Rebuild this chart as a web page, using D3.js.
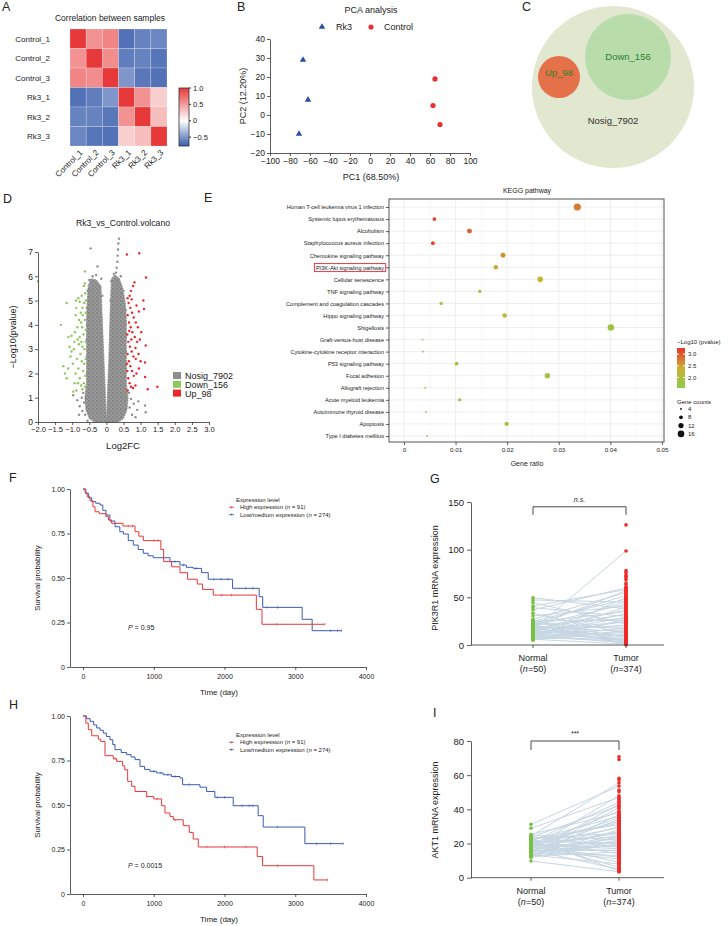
<!DOCTYPE html>
<html>
<head>
<meta charset="utf-8">
<script src="https://cdn.jsdelivr.net/npm/d3@7"></script>
<style>
  body { margin: 0; background: #fff; }
  svg text { font-family: "Liberation Sans", Arial, Helvetica, sans-serif; }
</style>
</head>
<body>
<div id="fig"></div>
<script>
// ── Datos ────────────────────────────────────────────────────────────────
// A: correlación entre muestras
const samples = ["Control_1", "Control_2", "Control_3", "Rk3_1", "Rk3_2", "Rk3_3"];
const corrValues = [
  [ 1.00,  0.55,  0.62, -0.68, -0.60, -0.58],
  [ 0.55,  1.00,  0.58, -0.62, -0.60, -0.66],
  [ 0.62,  0.58,  1.00, -0.50, -0.65, -0.68],
  [-0.68, -0.62, -0.50,  1.00,  0.55,  0.25],
  [-0.60, -0.60, -0.65,  0.55,  1.00,  0.33],
  [-0.58, -0.66, -0.68,  0.25,  0.33,  1.00]
];
const corrTicks = [1.0, 0.5, 0, -0.5];

// B: PCA
const pcaRk3 = [[-67, 29], [-62, 8], [-71, -10]];
const pcaControl = [[65, 19], [63, 5], [70, -5]];

// C: DEG
const degNames = ["Nosig", "Down", "Up"];
const degCounts = [7902, 156, 98];

// D: volcano
const volcanoNosigShape = [
  [0.0, 0.05], [0.02, 0.6], [0.04, 1.5], [0.07, 2.5], [0.09, 3.5], [0.11, 4.5], [0.13, 5.3], [0.15, 5.9],
  [0.25, 6.05], [0.38, 5.9], [0.48, 5.5], [0.55, 4.9], [0.58, 4.2], [0.58, 3.0], [0.58, 1.6], [0.63, 1.0],
  [0.6, 0.5], [0.5, 0.15], [0.35, 0.0], [-0.35, 0.0], [-0.5, 0.15], [-0.6, 0.5], [-0.63, 1.0], [-0.58, 1.6],
  [-0.58, 3.0], [-0.58, 4.2], [-0.56, 5.0], [-0.53, 5.6], [-0.45, 5.9], [-0.3, 5.85], [-0.16, 5.6],
  [-0.13, 4.5], [-0.1, 3.5], [-0.07, 2.5], [-0.04, 1.5], [-0.02, 0.6]
];
const volcanoNosig = [
  [-0.46, 7.15], [-0.26, 6.4], [-0.3, 6.05], [-0.4, 6.0], [-0.5, 5.85], [0.37, 7.55], [0.35, 7.35], [0.34, 7.1],
  [0.33, 6.85], [0.32, 6.6], [0.3, 6.35], [0.28, 6.15], [0.22, 6.1], [0.42, 6.0],
  [0.93, 0.85], [0.9, 0.5], [1.13, 0.68], [1.15, 0.4], [0.8, 0.75], [0.72, 0.95], [0.68, 0.6], [0.75, 0.3],
  [0.85, 0.2], [0.66, 1.2], [-0.97, 1.1], [-0.85, 0.9], [-0.78, 0.65], [-0.7, 0.45], [-0.72, 1.0],
  [-0.65, 0.8], [-0.62, 0.3], [-0.68, 1.2], [-0.8, 0.3], [-0.55, 0.05],
  [-0.57, 2.0], [-0.57, 2.7], [-0.58, 3.4], [-0.57, 4.0], [-0.57, 4.7], [-0.55, 5.4], [0.57, 2.2], [0.57, 2.9],
  [0.57, 3.5], [0.57, 4.0], [0.56, 4.6], [0.5, 5.4], [-0.15, 5.9], [-0.12, 5.2], [0.14, 5.8], [0.12, 5.0]
];
const volcanoDown = [
  [-2.0, 5.8], [-0.63, 6.2], [-1.33, 4.0], [-1.16, 4.9], [-1.11, 3.5], [-1.02, 3.55], [-0.89, 5.0], [-0.82, 5.1],
  [-0.78, 4.95], [-0.72, 5.2], [-0.66, 5.6], [-0.62, 5.3], [-1.26, 2.3], [-1.21, 2.0], [-1.16, 1.8], [-0.97, 1.25],
  [-0.88, 1.3], [-1.02, 2.9], [-0.95, 3.0], [-0.92, 3.7], [-0.85, 3.9], [-0.8, 4.2], [-0.75, 4.5], [-0.7, 4.7],
  [-0.65, 4.9], [-0.9, 4.4], [-0.86, 2.6], [-0.82, 2.2], [-0.78, 1.8], [-0.74, 1.5], [-0.7, 1.35], [-0.66, 1.6],
  [-0.62, 1.9], [-0.68, 2.1], [-0.72, 2.5], [-0.76, 2.8], [-0.8, 3.2], [-0.84, 3.4], [-0.64, 3.0], [-0.61, 3.3],
  [-0.67, 3.6], [-0.71, 3.9], [-0.74, 4.1], [-0.63, 4.2], [-0.6, 4.5], [-0.69, 4.4], [-0.61, 2.6], [-0.65, 2.4],
  [-0.7, 3.1], [-0.78, 3.5], [-0.9, 2.0], [-0.98, 2.4], [-1.05, 2.7], [-0.94, 3.3], [-1.08, 3.1], [-0.88, 4.7],
  [-0.6, 5.0], [-0.63, 5.7], [-0.73, 3.3], [-0.6, 3.8], [-0.62, 1.45], [-0.83, 1.6], [-1.12, 2.2], [-0.93, 1.6]
];
const volcanoUp = [
  [0.6, 6.9], [0.96, 6.95], [1.16, 5.95], [0.82, 5.75], [0.78, 5.6], [0.72, 5.4], [0.68, 5.2], [1.08, 5.0],
  [1.1, 4.65], [1.15, 3.15], [1.13, 2.45], [1.13, 1.85], [1.49, 1.45], [1.21, 1.35], [0.62, 1.3], [0.65, 4.9],
  [0.7, 4.7], [0.75, 4.5], [0.8, 4.3], [0.86, 4.1], [0.92, 3.9], [0.62, 4.4], [0.66, 4.1], [0.71, 3.9],
  [0.76, 3.7], [0.83, 3.5], [0.9, 3.3], [0.98, 3.4], [0.61, 3.6], [0.64, 3.3], [0.69, 3.1], [0.74, 2.9],
  [0.79, 2.7], [0.86, 2.6], [0.94, 2.8], [0.62, 2.8], [0.66, 2.5], [0.7, 2.3], [0.75, 2.1], [0.8, 1.9],
  [0.88, 2.0], [0.95, 2.2], [0.61, 2.1], [0.64, 1.8], [0.68, 1.6], [0.72, 1.45], [0.78, 1.4], [0.85, 1.5],
  [0.62, 5.1], [0.74, 5.05], [0.88, 4.8], [0.95, 4.55], [1.02, 3.7], [0.85, 3.05], [1.0, 2.5], [0.73, 3.4],
  [0.67, 3.75], [0.6, 2.4]
];

// E: KEGG
const keggPathways = [
  "Human T-cell leukemia virus 1 infection", "Systemic lupus erythematosus", "Alcoholism",
  "Staphylococcus aureus infection", "Chemokine signaling pathway", "PI3K-Akt signaling pathway",
  "Cellular senescence", "TNF signaling pathway", "Complement and coagulation cascades",
  "Hippo signaling pathway", "Shigellosis", "Graft-versus-host disease",
  "Cytokine-cytokine receptor interaction", "P53 signaling pathway", "Focal adhesion",
  "Allograft rejection", "Acute myeloid leukemia", "Autoimmune thyroid disease", "Apoptosis",
  "Type I diabetes mellitus"
];
const keggRatio = [0.0336, 0.0059, 0.0127, 0.0056, 0.0192, 0.0178, 0.0264, 0.0147, 0.0072, 0.0195,
                   0.0401, 0.0036, 0.0037, 0.0102, 0.0278, 0.0041, 0.0108, 0.0043, 0.0199, 0.0045];
const keggLogP = [2.75, 3.15, 2.95, 3.2, 2.6, 2.4, 2.35, 2.05, 2.0, 2.1,
                  1.8, 1.9, 1.85, 1.9, 1.8, 1.75, 1.8, 1.75, 1.85, 1.7];
const keggCount = [18, 8, 11, 8, 11, 10, 13, 7, 7, 10, 16, 4, 4, 8, 12, 4, 7, 4, 9, 4];
const keggCountBreaks = [4, 8, 12, 16];
const keggPBreaks = [3.0, 2.5, 2.0];
const keggRatioTicks = [0, 0.01, 0.02, 0.03, 0.04, 0.05];

// F / H: supervivencia  [tiempo, probabilidad]
const survTicksX = [0, 1000, 2000, 3000, 4000];
const survTicksY = [0, 0.25, 0.5, 0.75, 1];
const fHigh = [[0, 1], [30, 0.978], [60, 0.956], [99, 0.934], [140, 0.9], [170, 0.872], [230, 0.861],
  [325, 0.845], [360, 0.826], [405, 0.807], [565, 0.792], [735, 0.76], [790, 0.735], [852, 0.71],
  [1100, 0.66], [1140, 0.592], [1252, 0.563], [1370, 0.53], [1478, 0.493], [1615, 0.466], [1690, 0.436],
  [1841, 0.404], [2450, 0.324], [2530, 0.24], [3418, 0.24]];
const fLow = [[0, 1], [40, 0.975], [80, 0.95], [123, 0.929], [180, 0.92], [240, 0.91], [280, 0.88],
  [325, 0.854], [380, 0.82], [452, 0.788], [520, 0.76], [570, 0.747], [640, 0.71], [711, 0.685],
  [780, 0.66], [852, 0.639], [920, 0.625], [993, 0.614], [1229, 0.592], [1370, 0.573], [1460, 0.56],
  [1558, 0.554], [1676, 0.53], [1770, 0.493], [2114, 0.442], [2490, 0.395], [2540, 0.335],
  [3098, 0.268], [3239, 0.204], [3654, 0.204]];
const fHighCensor = [640, 700, 1000, 1060, 1960, 2100, 2740, 3418];
const fLowCensor = [1300, 1420, 1600, 1850, 1950, 2050, 2300, 2400, 2600, 2750, 3500, 3600, 3654];
const hHigh = [[0, 1], [40, 0.96], [75, 0.923], [123, 0.889], [216, 0.87], [250, 0.857], [311, 0.777],
  [428, 0.76], [476, 0.745], [560, 0.72], [590, 0.698], [631, 0.633], [688, 0.605], [735, 0.576],
  [900, 0.548], [1000, 0.534], [1111, 0.496], [1158, 0.455], [1229, 0.436], [1276, 0.417], [1417, 0.384],
  [1502, 0.346], [1558, 0.309], [1629, 0.264], [2462, 0.211], [2538, 0.159], [3263, 0.079], [3456, 0.079]];
const hLow = [[0, 1], [50, 0.985], [99, 0.97], [150, 0.95], [193, 0.933], [240, 0.92], [287, 0.904],
  [330, 0.885], [381, 0.867], [420, 0.84], [452, 0.811], [540, 0.795], [617, 0.783], [680, 0.77],
  [735, 0.755], [805, 0.717], [870, 0.7], [946, 0.689], [1040, 0.68], [1134, 0.67], [1250, 0.66],
  [1370, 0.652], [1408, 0.614], [1653, 0.6], [1747, 0.576], [1864, 0.543], [2123, 0.496], [2476, 0.44],
  [2547, 0.376], [3136, 0.283], [3677, 0.283]];
const hHighCensor = [450, 900, 1050, 1300, 1750, 2000, 2300, 2750, 3456];
const hLowCensor = [1000, 1100, 1200, 1300, 1500, 1900, 2000, 2250, 2350, 2400, 2750, 3300, 3500, 3677];

// G: PIK3R1 (pares Normal/Tumor + tumores sin par)
const groups = ["Normal", "Tumor"];
const pikNormal = [49.6, 47.2, 44.4, 40.9, 39.2, 36.7, 33.2, 30.4,
  27, 26, 25.5, 25, 24, 23.5, 23, 22, 21.5, 21, 20.5, 20,
  19.5, 19, 18.5, 18, 17.5, 17, 16.5, 16, 15.5, 15,
  14.5, 14, 13.5, 13, 12.5, 12, 11.5, 11, 10.5, 10,
  9.5, 9, 8.5, 8, 7.5, 7, 6.5, 6, 5.5, 5];
const pikTumorPaired = [38, 45, 22, 58, 30, 60, 12, 41,
  55, 3, 26, 48, 8, 35, 17, 52, 1, 28, 6, 43,
  14, 57, 2, 19, 32, 9, 24, 98.6, 4, 37,
  11, 21, 46, 5, 16, 29, 2, 33, 7, 13,
  25, 3, 40, 10, 18, 6, 50, 1, 15, 27];
const pikTumorOther = [126, 78, 76, 73.7, 72, 70.3, 68.5, 65, 63.3, 60.9, 59.6, 58.3, 56.8, 55.6, 54.1,
  53.2, 51.4, 50.3, 48.8, 47.5, 46.6, 44.9, 43.7, 42.1, 40.8, 39.6, 38.2, 36.9, 35.4, 34.3, 32.8, 31.6,
  30.1, 28.9, 27.5, 26.2, 24.8, 23.3, 22.4, 20.9, 19.7, 18.2, 16.8, 15.5, 14.1, 12.7, 11.6, 10.2, 8.8,
  7.3, 6.1, 4.6, 3.4, 2.2, 0.9, 0.2];
const pikTicks = [0, 50, 100, 150];

// I: AKT1
const aktNormal = [31.2, 28.9, 25.3, 24.8, 24.4, 24, 23.6, 23.1, 22.7, 22.2,
  21.9, 21.5, 21.1, 20.6, 20.3, 19.9, 19.5, 19.1, 18.7, 18.4,
  18, 17.6, 17.3, 16.9, 16.5, 16.2, 15.8, 15.4, 15.1, 14.7,
  14.4, 14, 13.7, 13.3, 13, 12.6, 12.3, 11.9, 22.4, 20.8,
  19.3, 17.8, 16.4, 14.9, 13.5, 21.3, 18.1, 15.6, 12.8, 9.8];
const aktTumorPaired = [53.6, 47, 38, 22, 55.5, 18, 42, 26, 31, 14,
  36, 20, 44, 24, 9, 29, 33, 17, 39, 21,
  12, 27, 48, 16, 23, 5, 30, 19, 34, 25,
  13, 41, 22, 8, 28, 15, 37, 20, 4, 32,
  18, 26, 11, 43, 24, 6, 35, 16, 21, 3.5];
const aktTumorOther = [70.8, 69.2, 58.1, 57.2, 51.3, 50.3, 46.2, 45.4, 44.6, 41.8, 40.3, 38.6, 37.9,
  37.1, 36.4, 35.6, 34.8, 34.1, 33.3, 32.7, 31.9, 31.2, 30.4, 29.6, 28.9, 28.1, 27.4, 26.6, 25.9,
  25.1, 24.4, 23.6, 22.8, 22.1, 21.3, 20.6, 19.8, 19.1, 18.3, 17.5, 16.8, 16.1, 15.3, 14.5, 13.8,
  13.1, 12.3, 11.6, 10.8, 10.1, 9.3, 8.6, 7.8, 7.1, 6.3, 5.6, 4.8, 4.2, 3.5];
const aktTicks = [0, 20, 40, 60, 80];

// ── Lienzo ────────────────────────────────────────────────────────────────
const INK = "#333";
const svg = d3.select("#fig").append("svg")
  .attr("width", 728).attr("height", 926)
  .style("display", "block");
const defs = svg.append("defs");

function styleAxis(sel, fs) {
  sel.attr("font-family", null).attr("font-size", null);
  sel.select(".domain").attr("stroke", INK).attr("stroke-width", 0.8);
  sel.selectAll(".tick line").attr("stroke", INK).attr("stroke-width", 0.8);
  sel.selectAll(".tick text").attr("fill", "#222").style("font-size", fs + "px");
  return sel;
}

function addText(g, x, y, s, size, anchor = "start", extra = {}) {
  const t = g.append("text").attr("x", x).attr("y", y)
    .attr("text-anchor", anchor).style("font-size", size + "px")
    .attr("fill", extra.fill || "#222").text(s);
  if (extra.rotate) t.attr("transform", `rotate(${extra.rotate},${x},${y})`);
  if (extra.italic) t.style("font-style", "italic");
  return t;
}

// letras de panel
const letterPos = {A: [2, 11], B: [237, 11], C: [522, 11], D: [3, 203], E: [204, 202],
                   F: [9, 482], G: [430, 483], H: [9, 709], I: [433, 717]};
Object.entries(letterPos).forEach(([k, [x, y]]) => addText(svg, x, y, k, 12.5));

// ── A: heatmap ─────────────────────────────────────────────────────────────
{
  const g = svg.append("g");
  const x = d3.scaleBand().domain(samples).range([70, 167]);
  const y = d3.scaleBand().domain(samples).range([29, 146]);
  const color = d3.scaleLinear().domain([-0.77, 0, 1]).range(["#3b5ead", "#ffffff", "#e8393a"]);
  const cells = corrValues.flatMap((row, i) => row.map((v, j) => ({r: samples[i], c: samples[j], v})));

  g.selectAll("rect.cell").data(cells).join("rect").attr("class", "cell")
    .attr("x", d => x(d.c)).attr("y", d => y(d.r))
    .attr("width", x.bandwidth()).attr("height", y.bandwidth())
    .attr("fill", d => color(d.v))
    .attr("stroke", "#fff").attr("stroke-opacity", 0.35).attr("stroke-width", 0.6);

  addText(g, 110, 21, "Correlation between samples", 8.5, "middle");

  g.selectAll("text.row").data(samples).join("text").attr("class", "row")
    .attr("x", 50).attr("y", d => y(d) + y.bandwidth() / 2).attr("dy", "0.35em")
    .attr("text-anchor", "end").style("font-size", "8px").attr("fill", "#222").text(d => d);

  g.selectAll("text.col").data(samples).join("text").attr("class", "col")
    .attr("transform", d => `translate(${x(d) + x.bandwidth() / 2 + 3},151) rotate(-45)`)
    .attr("text-anchor", "end").attr("dy", "0.35em")
    .style("font-size", "8px").attr("fill", "#222").text(d => d);

  // barra de color
  const cb = d3.scaleLinear().domain([-0.77, 1]).range([146, 88]);
  const grad = defs.append("linearGradient").attr("id", "gradA")
    .attr("x1", 0).attr("y1", 1).attr("x2", 0).attr("y2", 0);
  [-0.77, -0.4, 0, 0.5, 1].forEach(v => grad.append("stop")
    .attr("offset", (v + 0.77) / 1.77).attr("stop-color", color(v)));
  g.append("rect").attr("x", 179).attr("y", 88).attr("width", 10).attr("height", 58)
    .attr("fill", "url(#gradA)").attr("stroke", INK).attr("stroke-width", 0.8);
  corrTicks.forEach(v => {
    g.append("line").attr("x1", 189).attr("x2", 191).attr("y1", cb(v)).attr("y2", cb(v)).attr("stroke", INK);
    addText(g, 193, cb(v), v === 0 ? "0" : d3.format(".1f")(v).replace("-", "−"), 7.5).attr("dy", "0.35em");
  });
}

// ── B: PCA ─────────────────────────────────────────────────────────────────
{
  const g = svg.append("g");
  const x = d3.scaleLinear().domain([-100, 100]).range([270, 470]);
  const y = d3.scaleLinear().domain([-20, 40]).range([153, 39]);
  g.append("g").attr("transform", "translate(0,153)")
    .call(d3.axisBottom(x).tickValues(d3.range(-100, 101, 20)).tickSize(3).tickPadding(2).tickSizeOuter(0))
    .call(s => styleAxis(s, 8.5));
  g.append("g").attr("transform", "translate(270,0)")
    .call(d3.axisLeft(y).tickValues(d3.range(-20, 41, 10)).tickSize(3).tickPadding(2).tickSizeOuter(0))
    .call(s => styleAxis(s, 8.5));

  const tri = d3.symbol().type(d3.symbolTriangle).size(18);
  g.selectAll("path.rk3").data(pcaRk3).join("path").attr("class", "rk3")
    .attr("d", tri).attr("transform", d => `translate(${x(d[0])},${y(d[1])})`).attr("fill", "#2b4fa0");
  g.selectAll("circle.ctl").data(pcaControl).join("circle").attr("class", "ctl")
    .attr("cx", d => x(d[0])).attr("cy", d => y(d[1])).attr("r", 2.6).attr("fill", "#e8312d");

  addText(g, 371, 13, "PCA analysis", 9, "middle");
  g.append("path").attr("d", tri).attr("transform", "translate(322,27)").attr("fill", "#2b4fa0");
  addText(g, 336, 27, "Rk3", 9).attr("dy", "0.35em");
  g.append("circle").attr("cx", 371).attr("cy", 27).attr("r", 2.6).attr("fill", "#e8312d");
  addText(g, 384, 27, "Control", 9).attr("dy", "0.35em");
  addText(g, 371, 180, "PC1 (68.50%)", 9, "middle");
  addText(g, 246, 96, "PC2 (12.20%)", 9, "middle", {rotate: -90});
}

// ── C: burbujas DEG ────────────────────────────────────────────────────────
{
  const g = svg.append("g");
  const bubbleLayout = {
    Nosig: {cx: 613, cy: 87, r: 81, fill: "#e2e7d0", ink: "#333", ly: 121},
    Down:  {cx: 628, cy: 57, r: 43, fill: "#b9dcab", ink: "#2e7d32", ly: 57},
    Up:    {cx: 559, cy: 77, r: 21, fill: "#e4714a", ink: "#3a7d2a", ly: 73}
  };
  const deg = degNames.map((n, i) => ({name: n, count: degCounts[i], ...bubbleLayout[n]}));
  g.selectAll("circle").data(deg).join("circle")
    .attr("cx", d => d.cx).attr("cy", d => d.cy).attr("r", d => d.r).attr("fill", d => d.fill);
  g.selectAll("text").data(deg).join("text")
    .attr("x", d => d.cx).attr("y", d => d.ly).attr("dy", "0.35em").attr("text-anchor", "middle")
    .style("font-size", "9.5px").attr("fill", d => d.ink).text(d => `${d.name}_${d.count}`);
}

// ── D: volcano ─────────────────────────────────────────────────────────────
{
  const g = svg.append("g");
  const x = d3.scaleLinear().domain([-2, 3]).range([38, 209]);
  const y = d3.scaleLinear().domain([0, 7]).range([422, 252]);
  const grey = "#8e8e8e", green = "#8dc85a", red = "#e8282a";

  // textura granulada para la nube de puntos no significativos
  const pat = defs.append("pattern").attr("id", "speckle").attr("patternUnits", "userSpaceOnUse")
    .attr("width", 4).attr("height", 4);
  pat.append("rect").attr("width", 4).attr("height", 4).attr("fill", "#999");
  pat.append("circle").attr("cx", 1).attr("cy", 1).attr("r", 0.9).attr("fill", "#7c7c7c");
  pat.append("circle").attr("cx", 3).attr("cy", 3).attr("r", 0.9).attr("fill", "#858585");

  g.append("path").datum(volcanoNosigShape)
    .attr("d", d3.line().x(d => x(d[0])).y(d => y(d[1])).curve(d3.curveLinearClosed))
    .attr("fill", "url(#speckle)").attr("stroke", grey).attr("stroke-width", 1.2)
    .attr("stroke-dasharray", "1.5 1");
  const dots = (data, c) => g.append("g").selectAll("circle").data(data).join("circle")
    .attr("cx", d => x(d[0])).attr("cy", d => y(d[1])).attr("r", 1.2).attr("fill", c);
  dots(volcanoNosig, grey);
  dots(volcanoDown, green);
  dots(volcanoUp, red);

  g.append("g").attr("transform", "translate(0,422)")
    .call(d3.axisBottom(x).tickValues(d3.range(-2, 3.01, 0.5)).tickSize(3).tickPadding(2).tickSizeOuter(0)
      .tickFormat(d => Math.abs(d) < 1e-9 ? "0" : d3.format(".1f")(d)))
    .call(s => styleAxis(s, 7.6));
  g.append("g").attr("transform", "translate(38,0)")
    .call(d3.axisLeft(y).ticks(7).tickSize(3).tickPadding(2).tickSizeOuter(0))
    .call(s => styleAxis(s, 8.5));

  addText(g, 123, 226, "Rk3_vs_Control.volcano", 8.7, "middle");
  addText(g, 123, 449, "Log2FC", 9.5, "middle");
  addText(g, 16, 337, "−Log10(pvalue)", 9, "middle", {rotate: -90});

  [["Nosig_7902", grey], ["Down_156", green], ["Up_98", red]].forEach(([lab, c], i) => {
    g.append("rect").attr("x", 173).attr("y", 372 + i * 8.8).attr("width", 8).attr("height", 7).attr("fill", c);
    addText(g, 185, 376 + i * 8.8, lab, 9).attr("dy", "0.35em");
  });
}

// ── E: KEGG ────────────────────────────────────────────────────────────────
{
  const g = svg.append("g");
  const x = d3.scaleLinear().domain([-0.0029, 0.0504]).range([389, 664]);
  const y = d3.scalePoint().domain(keggPathways).range([207, 436]);
  const color = d3.scaleLinear().domain([1.55, 2.35, 3.26]).range(["#8ccb4c", "#c8b332", "#e8362e"]);
  const size = d3.scaleLinear().domain([2, 4]).range([0.9, 3.3]);
  const rows = keggPathways.map((p, i) => ({p, ratio: keggRatio[i], lp: keggLogP[i], n: keggCount[i]}));

  // rejilla
  d3.range(0.005, 0.05, 0.01).forEach(v => g.append("line").attr("x1", x(v)).attr("x2", x(v))
    .attr("y1", 199).attr("y2", 442).attr("stroke", "#f3f3f3").attr("stroke-width", 0.5));
  keggRatioTicks.forEach(v => g.append("line").attr("x1", x(v)).attr("x2", x(v))
    .attr("y1", 199).attr("y2", 442).attr("stroke", "#e6e6e6").attr("stroke-width", 0.7));
  keggPathways.forEach(p => g.append("line").attr("x1", 389).attr("x2", 664)
    .attr("y1", y(p)).attr("y2", y(p)).attr("stroke", "#e6e6e6").attr("stroke-width", 0.7));

  g.selectAll("circle").data(rows).join("circle")
    .attr("cx", d => x(d.ratio)).attr("cy", d => y(d.p))
    .attr("r", d => size(Math.sqrt(d.n))).attr("fill", d => color(d.lp));

  g.append("rect").attr("x", 389).attr("y", 199).attr("width", 275).attr("height", 243)
    .attr("fill", "none").attr("stroke", "#444").attr("stroke-width", 0.9);

  g.append("g").attr("transform", "translate(389,0)")
    .call(d3.axisLeft(y).tickSize(3).tickPadding(2).tickSizeOuter(0))
    .call(s => styleAxis(s, 5.6)).call(s => s.select(".domain").remove());
  g.append("g").attr("transform", "translate(0,442)")
    .call(d3.axisBottom(x).tickValues(keggRatioTicks).tickSize(3).tickPadding(3).tickSizeOuter(0)
      .tickFormat(d3.format("~g")))
    .call(s => styleAxis(s, 6.2)).call(s => s.select(".domain").remove());

  // recuadro rojo PI3K-Akt
  const lab = g.selectAll(".tick text").filter(d => d === "PI3K-Akt signaling pathway").node();
  const bb = lab.getBBox();
  const m = lab.parentNode.getCTM();
  g.append("rect").attr("x", bb.x + m.e - 1.5).attr("y", bb.y + m.f - 1)
    .attr("width", bb.width + 3).attr("height", bb.height + 2)
    .attr("fill", "none").attr("stroke", "#ec3b47").attr("stroke-width", 1);

  addText(g, 527, 193, "KEGG pathway", 7, "middle");
  addText(g, 527, 466, "Gene ratio", 7, "middle");

  // leyendas
  addText(g, 677, 344, "−Log10 (pvalue)", 6);
  const cb = d3.scaleLinear().domain([1.55, 3.26]).range([388, 348]);
  const grad = defs.append("linearGradient").attr("id", "gradE")
    .attr("x1", 0).attr("y1", 1).attr("x2", 0).attr("y2", 0);
  [1.55, 2.35, 3.26].forEach(v => grad.append("stop")
    .attr("offset", (v - 1.55) / 1.71).attr("stop-color", color(v)));
  g.append("rect").attr("x", 677).attr("y", 348).attr("width", 8).attr("height", 40).attr("fill", "url(#gradE)");
  keggPBreaks.forEach(v => {
    g.append("line").attr("x1", 677).attr("x2", 679).attr("y1", cb(v)).attr("y2", cb(v)).attr("stroke", "#fff");
    g.append("line").attr("x1", 683).attr("x2", 685).attr("y1", cb(v)).attr("y2", cb(v)).attr("stroke", "#fff");
    addText(g, 688, cb(v), d3.format(".1f")(v), 6).attr("dy", "0.35em");
  });
  addText(g, 677, 404, "Gene counts", 6);
  keggCountBreaks.forEach((n, i) => {
    const yy = 409 + i * 8.3;
    g.append("circle").attr("cx", 681).attr("cy", yy).attr("r", size(Math.sqrt(n))).attr("fill", "#111");
    addText(g, 688, yy, n, 6).attr("dy", "0.35em");
  });
}

// ── F / H: Kaplan-Meier ────────────────────────────────────────────────────
function drawKM(cfg) {
  const g = svg.append("g");
  const x = d3.scaleLinear().domain([-184, 4000]).range([70, 366]);
  const y = d3.scaleLinear().domain([0, 1]).range([cfg.y0, cfg.y0 - 178]);
  const line = d3.line().x(d => x(d[0])).y(d => y(d[1])).curve(d3.curveStepAfter);
  const sAt = (data, t) => { let s = 1; for (const [ti, si] of data) if (ti <= t) s = si; return s; };

  [[cfg.low, cfg.lowCensor, "#3a5bb5"], [cfg.high, cfg.highCensor, "#e8363a"]].forEach(([data, cens, c]) => {
    g.append("path").datum(data).attr("d", line).attr("fill", "none").attr("stroke", c).attr("stroke-width", 1);
    g.append("g").selectAll("line").data(cens).join("line")
      .attr("x1", t => x(t)).attr("x2", t => x(t))
      .attr("y1", t => y(sAt(data, t)) - 1.3).attr("y2", t => y(sAt(data, t)) + 1.3)
      .attr("stroke", c).attr("stroke-width", 0.6);
  });

  g.append("g").attr("transform", `translate(0,${cfg.y0})`)
    .call(d3.axisBottom(x).tickValues(survTicksX).tickSize(3).tickPadding(4).tickSizeOuter(0)
      .tickFormat(d3.format("d")))
    .call(s => styleAxis(s, 7));
  g.append("g").attr("transform", "translate(70,0)")
    .call(d3.axisLeft(y).tickValues(survTicksY).tickSize(3).tickPadding(2).tickSizeOuter(0)
      .tickFormat(d => d === 0 ? "0" : d3.format(".2f")(d)))
    .call(s => styleAxis(s, 7));

  addText(g, 219, cfg.y0 + 28, "Time (day)", 8, "middle");
  addText(g, 40, cfg.y0 - 89, "Survival probability", 7.8, "middle", {rotate: -90});

  const pt = addText(g, 128, cfg.pY, "", 7);
  pt.append("tspan").style("font-style", "italic").text("P");
  pt.append("tspan").text(` = ${cfg.p}`);

  addText(g, 236, cfg.legY, "Expression level", 6);
  [["High expression (", " = 91)", "#e8363a"], ["Low/medium expression (", " = 274)", "#3a5bb5"]].forEach(([a, b, c], i) => {
    const yy = cfg.legY + 7.3 * (i + 1);
    g.append("line").attr("x1", 229).attr("x2", 234).attr("y1", yy - 2).attr("y2", yy - 2).attr("stroke", c).attr("stroke-width", 0.8);
    g.append("line").attr("x1", 231.5).attr("x2", 231.5).attr("y1", yy - 3.2).attr("y2", yy - 0.8).attr("stroke", c).attr("stroke-width", 0.6);
    const t = addText(g, 240, yy, "", 6);
    t.append("tspan").text(a);
    t.append("tspan").style("font-style", "italic").text("n");
    t.append("tspan").text(b);
  });
}
drawKM({y0: 667, high: fHigh, low: fLow, highCensor: fHighCensor, lowCensor: fLowCensor, p: "0.95", pY: 630, legY: 502});
drawKM({y0: 894, high: hHigh, low: hLow, highCensor: hHighCensor, lowCensor: hLowCensor, p: "0.0015", pY: 868, legY: 737});

// ── G / I: expresión pareada ───────────────────────────────────────────────
function drawPaired(cfg) {
  const g = svg.append("g");
  const x = d3.scalePoint().domain(groups).range(cfg.xr);
  const y = d3.scaleLinear().domain([0, cfg.max]).range([cfg.y0, cfg.yTop]);
  const pairs = cfg.normal.map((v, i) => [v, cfg.tumorPaired[i]]);

  g.append("g").selectAll("line").data(pairs).join("line")
    .attr("x1", x("Normal")).attr("x2", x("Tumor"))
    .attr("y1", d => y(d[0])).attr("y2", d => y(d[1]))
    .attr("stroke", "#c6d6e2").attr("stroke-width", 1);

  g.append("g").selectAll("circle").data(cfg.tumorPaired.concat(cfg.tumorOther)).join("circle")
    .attr("cx", x("Tumor")).attr("cy", d => y(d)).attr("r", 1.8).attr("fill", "#ee2a2a");
  g.append("g").selectAll("circle").data(cfg.normal).join("circle")
    .attr("cx", x("Normal")).attr("cy", d => y(d)).attr("r", 1.8).attr("fill", "#76c043");

  g.append("g").attr("transform", "translate(471,0)")
    .call(d3.axisLeft(y).tickValues(cfg.ticks).tickSize(4).tickPadding(3).tickSizeOuter(0))
    .call(s => styleAxis(s, 9.5));
  g.append("line").attr("x1", 471).attr("x2", 664).attr("y1", cfg.y0).attr("y2", cfg.y0)
    .attr("stroke", INK).attr("stroke-width", 0.8);
  groups.forEach((gr, i) => {
    g.append("line").attr("x1", x(gr)).attr("x2", x(gr)).attr("y1", cfg.y0).attr("y2", cfg.y0 + 3)
      .attr("stroke", INK).attr("stroke-width", 0.8);
    addText(g, x(gr), cfg.y0 + 16, gr, 9, "middle");
    const t = addText(g, x(gr), cfg.y0 + 27, "", 9, "middle");
    t.append("tspan").text("(");
    t.append("tspan").style("font-style", "italic").text("n");
    t.append("tspan").text(`=${cfg.n[i]})`);
  });

  const bTop = y(cfg.bracket[0]), bLeg = y(cfg.bracket[1]);
  g.append("path").attr("d", `M${x("Normal")},${bLeg}V${bTop}H${x("Tumor")}V${bLeg}`)
    .attr("fill", "none").attr("stroke", INK).attr("stroke-width", 0.9);
  addText(g, (x("Normal") + x("Tumor")) / 2, bTop - 5, cfg.sig, 7, "middle", {italic: cfg.sig === "n.s."});
  addText(g, 438, cfg.labelY, cfg.label, 9, "middle", {rotate: -90});
}
drawPaired({xr: [533, 626], y0: 645, yTop: 502, max: 150, ticks: pikTicks,
  normal: pikNormal, tumorPaired: pikTumorPaired, tumorOther: pikTumorOther,
  n: [50, 374], bracket: [145, 136.5], sig: "n.s.", label: "PIK3R1 mRNA expression", labelY: 578});
drawPaired({xr: [531, 619], y0: 877.7, yTop: 741, max: 80, ticks: aktTicks,
  normal: aktNormal, tumorPaired: aktTumorPaired, tumorOther: aktTumorOther,
  n: [50, 374], bracket: [80, 74.7], sig: "***", label: "AKT1 mRNA expression", labelY: 810});
</script>
</body>
</html>
